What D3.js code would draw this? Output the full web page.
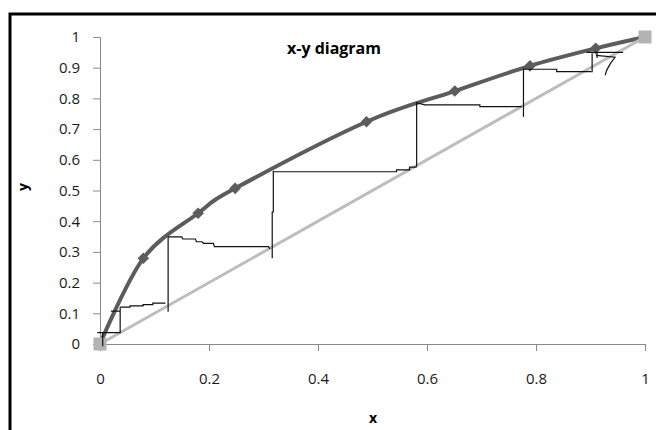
<!DOCTYPE html>
<html>
<head>
<meta charset="utf-8">
<script src="https://cdn.jsdelivr.net/npm/d3@7"></script>
<style>
  body { margin: 0; background: #fff; }
  svg { display: block; }
  .tick text { font-family: "Open Sans", sans-serif; font-size: 15px; fill: #1a1a1a; }
</style>
</head>
<body>
<div id="chart"></div>
<script>
// equilibrium curve
const eqX = [0, 0.0795, 0.18, 0.248, 0.489, 0.651, 0.789, 0.9095, 1];
const eqY = [0, 0.279, 0.426, 0.507, 0.724, 0.824, 0.906, 0.963, 1];

// 45 degree line
const diagX = [0, 1];
const diagY = [0, 1];

const xTicks = [0, 0.2, 0.4, 0.6, 0.8, 1];
const yTicks = [0, 0.1, 0.2, 0.3, 0.4, 0.5, 0.6, 0.7, 0.8, 0.9, 1];

// hand drawn stair steps, as polylines in data units
const stairs = [
  [[0.005, -0.007], [0.005, 0.037]],
  [[-0.005, 0.037], [0.037, 0.037], [0.037, 0.12]],
  [[0.02, 0.107], [0.037, 0.107]],
  [[0.037, 0.12], [0.055, 0.12], [0.055, 0.124], [0.079, 0.124], [0.079, 0.128],
   [0.097, 0.128], [0.097, 0.133], [0.12, 0.133]],
  [[0.125, 0.105], [0.125, 0.349]],
  [[0.125, 0.349], [0.15, 0.349], [0.152, 0.342], [0.175, 0.342], [0.177, 0.333],
   [0.187, 0.333], [0.19, 0.328], [0.208, 0.328], [0.21, 0.317], [0.309, 0.317], [0.312, 0.31]],
  [[0.316, 0.279], [0.316, 0.43], [0.318, 0.43], [0.318, 0.564]],
  [[0.318, 0.561], [0.544, 0.561], [0.544, 0.567], [0.568, 0.567], [0.568, 0.576], [0.581, 0.576]],
  [[0.581, 0.578], [0.581, 0.786], [0.596, 0.779], [0.697, 0.779], [0.697, 0.773], [0.774, 0.773]],
  [[0.777, 0.74], [0.777, 0.898]],
  [[0.777, 0.895], [0.838, 0.895], [0.838, 0.887], [0.902, 0.887]],
  [[0.903, 0.885], [0.903, 0.947]],
  [[0.893, 0.95], [0.96, 0.95]],
  [[0.912, 0.951], [0.912, 0.932]],
  [[0.91, 0.94], [0.945, 0.934], [0.937, 0.915], [0.93, 0.893], [0.927, 0.876]]
];

const W = 656, H = 430;
const margin = {top: 37, right: 11, bottom: 86, left: 100};
const width = W - margin.left - margin.right;
const height = H - margin.top - margin.bottom;

const svg = d3.select("#chart").append("svg")
  .attr("width", W).attr("height", H);

// outer frame (runs off the right and bottom)
svg.append("rect")
  .attr("x", 10).attr("y", 14)
  .attr("width", W + 20).attr("height", H + 20)
  .attr("fill", "none").attr("stroke", "#000").attr("stroke-width", 3);

const g = svg.append("g")
  .attr("transform", "translate(" + margin.left + "," + margin.top + ")");

const x = d3.scaleLinear().domain([0, 1]).range([0, width]);
const y = d3.scaleLinear().domain([0, 1]).range([height, 0]);

// axes
const xAxis = g.append("g")
  .attr("transform", "translate(0," + height + ")")
  .call(d3.axisBottom(x).tickValues(xTicks).tickSize(7).tickPadding(22).tickFormat(d3.format("")));
const yAxis = g.append("g")
  .call(d3.axisLeft(y).tickValues(yTicks).tickSize(7).tickPadding(13).tickFormat(d3.format("")));
[xAxis, yAxis].forEach(a => {
  a.selectAll(".domain, .tick line").attr("stroke", "#8a8a8a");
});

// equilibrium curve
const eqData = eqX.map((v, i) => [v, eqY[i]]);
g.append("path")
  .datum(eqData)
  .attr("fill", "none")
  .attr("stroke", "#5c5c5c")
  .attr("stroke-width", 4)
  .attr("d", d3.line().x(d => x(d[0])).y(d => y(d[1])).curve(d3.curveCardinal.tension(0)));

g.append("g").selectAll("path")
  .data(eqData)
  .enter().append("path")
  .attr("transform", d => "translate(" + x(d[0]) + "," + y(d[1]) + ")")
  .attr("d", d3.symbol().type(d3.symbolDiamond2).size(85))
  .attr("fill", "#5c5c5c");

// diagonal
const diagData = diagX.map((v, i) => [v, diagY[i]]);
g.append("path")
  .datum(diagData)
  .attr("fill", "none")
  .attr("stroke", "#bdbdbd")
  .attr("stroke-width", 3)
  .attr("d", d3.line().x(d => x(d[0])).y(d => y(d[1])));

g.append("g").selectAll("rect")
  .data(diagData)
  .enter().append("rect")
  .attr("x", d => x(d[0]) - 6.5)
  .attr("y", d => y(d[1]) - 6.5)
  .attr("width", 13).attr("height", 13)
  .attr("fill", "#b3b3b3");

// stairs
g.append("g").selectAll("path")
  .data(stairs)
  .enter().append("path")
  .attr("fill", "none")
  .attr("stroke", "#111")
  .attr("stroke-width", 1.2)
  .attr("d", d3.line().x(d => x(d[0])).y(d => y(d[1])));

// titles
svg.append("text")
  .attr("x", 334).attr("y", 54)
  .attr("text-anchor", "middle")
  .style("font-family", "'Open Sans', sans-serif")
  .style("font-weight", "bold")
  .style("font-size", "16px")
  .text("x-y diagram");

svg.append("text")
  .attr("x", 373).attr("y", 423)
  .attr("text-anchor", "middle")
  .style("font-family", "'Open Sans', sans-serif")
  .style("font-weight", "bold")
  .style("font-size", "14px")
  .text("x");

svg.append("text")
  .attr("transform", "translate(28,187) rotate(-90)")
  .attr("text-anchor", "middle")
  .style("font-family", "'Open Sans', sans-serif")
  .style("font-weight", "bold")
  .style("font-size", "14px")
  .text("y");
</script>
</body>
</html>
